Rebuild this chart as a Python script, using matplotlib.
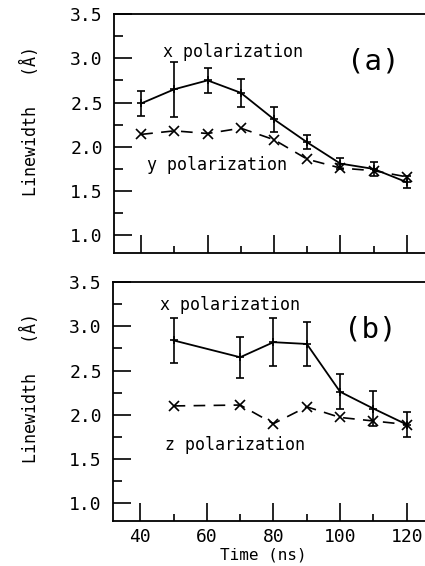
import matplotlib
matplotlib.use("Agg")
import matplotlib.pyplot as plt
from matplotlib.ticker import MultipleLocator

# ---- data (a) ----
t_a = [40, 50, 60, 70, 80, 90, 100, 110, 120]
xpol_a = [2.49, 2.65, 2.75, 2.61, 2.31, 2.05, 1.81, 1.75, 1.60]
xerr_a = [0.14, 0.31, 0.14, 0.16, 0.14, 0.08, 0.06, 0.08, 0.07]
ypol_a = [2.14, 2.18, 2.15, 2.21, 2.08, 1.86, 1.76, 1.73, 1.66]

# ---- data (b) ----
t_b = [50, 70, 80, 90, 100, 110, 120]
xpol_b = [2.84, 2.65, 2.82, 2.80, 2.26, 2.07, 1.89]
xerr_b = [0.25, 0.23, 0.27, 0.25, 0.20, 0.20, 0.145]
zpol_b = [2.10, 2.11, 1.90, 2.09, 1.97, 1.93, 1.89]

xticks = [40, 60, 80, 100, 120]
yticks = [1.0, 1.5, 2.0, 2.5, 3.0, 3.5]
ytick_labels = ["1.0", "1.5", "2.0", "2.5", "3.0", "3.5"]

MONO = "DejaVu Sans Mono"
plt.rcParams["font.family"] = MONO

W, H = 425, 566
fig = plt.figure(figsize=(W / 100, H / 100), dpi=100)

def px_axes(left, top, bottom, right=W):
    return fig.add_axes([left / W, 1 - bottom / H, (right - left) / W, (bottom - top) / H])

ax1 = px_axes(114, 14, 253)
ax2 = px_axes(113, 282, 521)

def style(ax, show_xlabels):
    ax.set_xlim(31.8, 125.5)
    ax.set_ylim(0.8, 3.5)
    ax.spines["right"].set_visible(False)
    for s in ["left", "top", "bottom"]:
        ax.spines[s].set_linewidth(1.3)
    ax.set_xticks(xticks)
    ax.xaxis.set_minor_locator(MultipleLocator(10))
    ax.set_yticks(yticks)
    ax.set_yticklabels(ytick_labels)
    ax.yaxis.set_minor_locator(MultipleLocator(0.25))
    ax.tick_params(axis="both", which="major", direction="in", length=13, width=1.2,
                   labelsize=13, pad=8)
    ax.tick_params(axis="x", which="major", pad=5)
    ax.tick_params(axis="y", which="minor", direction="in", length=6.5, width=1.2)
    ax.tick_params(axis="x", which="minor", direction="in", length=5, width=1.2)
    ax.tick_params(axis="x", which="both", top=False, labelbottom=show_xlabels)
    ax.tick_params(axis="y", which="both", right=False)

style(ax1, False)
style(ax2, True)

# panel (a)
ax1.errorbar(t_a, xpol_a, yerr=xerr_a, color="black", lw=1.3, elinewidth=1.2,
             capsize=3, capthick=1.2, marker="+", ms=6, mew=1.2)
ax1.plot(t_a, ypol_a, color="black", lw=1.2, dashes=(7, 5), marker="x", ms=7, mew=1.2)
ax1.text(0.383, 0.84, "x polarization", transform=ax1.transAxes, ha="center",
         va="center", fontsize=12)
ax1.text(0.331, 0.368, "y polarization", transform=ax1.transAxes, ha="center",
         va="center", fontsize=12)
ax1.text(0.833, 0.80, "(a)", transform=ax1.transAxes, ha="center", va="center",
         fontsize=21)

# panel (b)
ax2.errorbar(t_b, xpol_b, yerr=xerr_b, color="black", lw=1.3, elinewidth=1.2,
             capsize=3, capthick=1.2, marker="+", ms=6, mew=1.2)
ax2.plot(t_b, zpol_b, color="black", lw=1.2, dashes=(7, 5), marker="x", ms=7, mew=1.2)
ax2.text(0.375, 0.904, "x polarization", transform=ax2.transAxes, ha="center",
         va="center", fontsize=12)
ax2.text(0.39, 0.318, "z polarization", transform=ax2.transAxes, ha="center",
         va="center", fontsize=12)
ax2.text(0.824, 0.80, "(b)", transform=ax2.transAxes, ha="center", va="center",
         fontsize=21)

fig.text(263 / W, 1 - 555 / H, "Time (ns)", ha="center", va="center", fontsize=11.5)

fig.text(30 / W, 1 - 121 / H, "Linewidth   (Å)", rotation=90, ha="center", va="center",
         fontsize=12)
fig.text(30 / W, 1 - 388 / H, "Linewidth   (Å)", rotation=90, ha="center", va="center",
         fontsize=12)

fig.savefig("out.png", dpi=100, facecolor="white")
